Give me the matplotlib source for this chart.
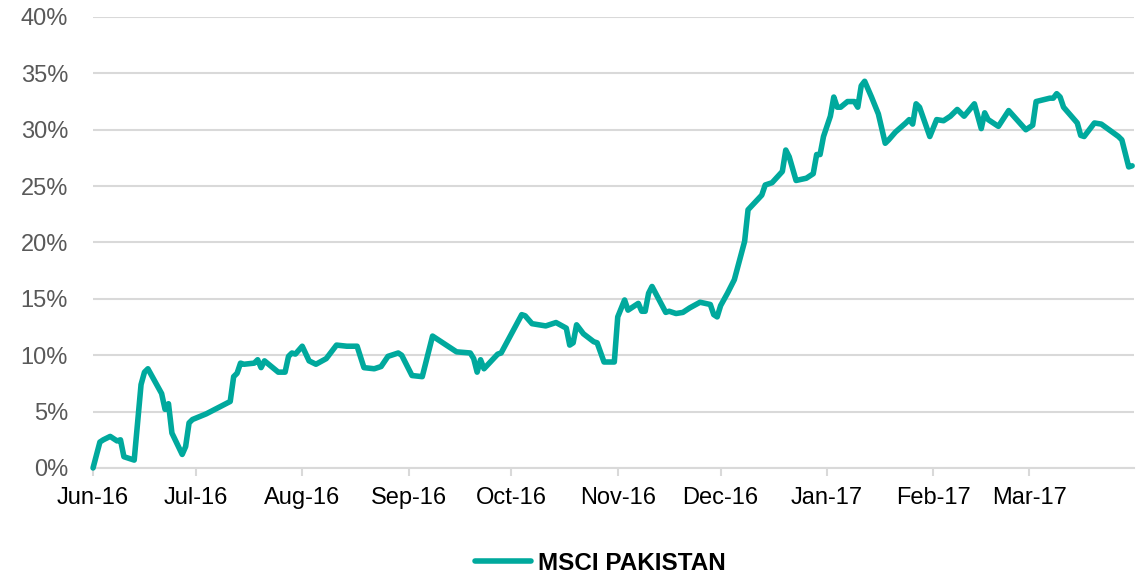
import numpy as np
import pandas as pd
import matplotlib
matplotlib.use("Agg")
import matplotlib.pyplot as plt
import matplotlib.dates as mdates
from matplotlib.ticker import FuncFormatter

# ================= DATA =================

DATES = [
    "2016-06-01", "2016-06-03", "2016-06-04", "2016-06-06", "2016-06-08", "2016-06-09",
    "2016-06-10", "2016-06-13", "2016-06-15", "2016-06-16", "2016-06-17", "2016-06-21",
    "2016-06-22", "2016-06-23", "2016-06-24", "2016-06-27", "2016-06-28", "2016-06-29",
    "2016-06-30", "2016-07-04", "2016-07-11", "2016-07-12", "2016-07-13", "2016-07-14",
    "2016-07-15", "2016-07-18", "2016-07-19", "2016-07-20", "2016-07-21", "2016-07-23",
    "2016-07-25", "2016-07-27", "2016-07-28", "2016-07-29", "2016-07-30", "2016-08-01",
    "2016-08-03", "2016-08-05", "2016-08-08", "2016-08-11", "2016-08-14", "2016-08-17",
    "2016-08-19", "2016-08-22", "2016-08-24", "2016-08-26", "2016-08-29", "2016-08-30",
    "2016-09-02", "2016-09-05", "2016-09-08", "2016-09-15", "2016-09-19", "2016-09-20",
    "2016-09-21", "2016-09-22", "2016-09-23", "2016-09-27", "2016-09-28", "2016-10-04",
    "2016-10-05", "2016-10-07", "2016-10-11", "2016-10-14", "2016-10-17", "2016-10-18",
    "2016-10-19", "2016-10-20", "2016-10-22", "2016-10-25", "2016-10-26", "2016-10-28",
    "2016-10-31", "2016-11-01", "2016-11-03", "2016-11-04", "2016-11-07", "2016-11-08",
    "2016-11-09", "2016-11-10", "2016-11-11", "2016-11-15", "2016-11-16", "2016-11-18",
    "2016-11-20", "2016-11-22", "2016-11-25", "2016-11-28", "2016-11-29", "2016-11-30",
    "2016-12-01", "2016-12-03", "2016-12-05", "2016-12-08", "2016-12-09", "2016-12-13",
    "2016-12-14", "2016-12-16", "2016-12-19", "2016-12-20", "2016-12-21", "2016-12-23",
    "2016-12-26", "2016-12-28", "2016-12-29", "2016-12-30", "2016-12-31", "2017-01-02",
    "2017-01-03", "2017-01-04", "2017-01-05", "2017-01-07", "2017-01-09", "2017-01-10",
    "2017-01-11", "2017-01-12", "2017-01-14", "2017-01-16", "2017-01-18", "2017-01-19",
    "2017-01-21", "2017-01-24", "2017-01-25", "2017-01-26", "2017-01-27", "2017-01-28",
    "2017-01-31", "2017-02-02", "2017-02-04", "2017-02-06", "2017-02-08", "2017-02-10",
    "2017-02-13", "2017-02-15", "2017-02-16", "2017-02-17", "2017-02-20", "2017-02-23",
    "2017-02-28", "2017-03-02", "2017-03-03", "2017-03-07", "2017-03-08", "2017-03-09",
    "2017-03-10", "2017-03-11", "2017-03-15", "2017-03-16", "2017-03-17", "2017-03-20",
    "2017-03-22", "2017-03-27", "2017-03-28", "2017-03-29", "2017-03-30", "2017-03-31",
]

MSCI_PAK = [
    0.0, 2.3, 2.5, 2.8, 2.4, 2.5,
    1.0, 0.7, 7.4, 8.5, 8.8, 6.6,
    5.2, 5.7, 3.1, 1.2, 1.9, 4.0,
    4.3, 4.8, 5.9, 8.1, 8.4, 9.3,
    9.2, 9.3, 9.6, 8.9, 9.5, 9.0,
    8.5, 8.5, 9.9, 10.2, 10.1, 10.8,
    9.5, 9.2, 9.7, 10.9, 10.8, 10.8,
    8.9, 8.8, 9.0, 9.9, 10.2, 10.0,
    8.2, 8.1, 11.7, 10.3, 10.2, 9.7,
    8.5, 9.6, 8.8, 10.1, 10.2, 13.6,
    13.5, 12.8, 12.6, 12.9, 12.4, 10.9,
    11.1, 12.7, 11.9, 11.2, 11.1, 9.4,
    9.4, 13.4, 14.9, 14.0, 14.6, 13.9,
    13.9, 15.5, 16.1, 13.8, 13.9, 13.7,
    13.8, 14.2, 14.7, 14.5, 13.6, 13.4,
    14.4, 15.5, 16.7, 20.1, 22.9, 24.2,
    25.1, 25.3, 26.3, 28.2, 27.6, 25.5,
    25.7, 26.1, 27.8, 27.8, 29.4, 31.2,
    32.9, 32.0, 32.0, 32.5, 32.5, 32.0,
    33.9, 34.3, 32.9, 31.4, 28.8, 29.1,
    29.8, 30.6, 30.9, 30.5, 32.3, 32.0,
    29.4, 30.9, 30.8, 31.2, 31.8, 31.2,
    32.3, 30.1, 31.5, 30.9, 30.3, 31.7,
    30.0, 30.4, 32.5, 32.8, 32.8, 33.2,
    32.9, 32.0, 30.6, 29.5, 29.4, 30.6,
    30.5, 29.4, 29.1, 27.9, 26.7, 26.8,
]

Y_TICKS = [0, 5, 10, 15, 20, 25, 30, 35, 40]
SERIES_NAME = "MSCI PAKISTAN"

# ================= STYLE =================

TEAL = "#00a99d"
GRID = "#d9d9d9"
plt.rcParams["font.family"] = ["Liberation Sans", "DejaVu Sans"]

dates = pd.to_datetime(DATES)

fig = plt.figure(figsize=(11.43, 5.74), dpi=100)
ax = fig.add_axes([0.0814, 0.1847, 0.9106, 0.7857])

ax.plot(dates, MSCI_PAK, color=TEAL, lw=4.0, solid_joinstyle="round",
        solid_capstyle="round", clip_on=False, label=SERIES_NAME, zorder=3)

ax.set_ylim(0, 40)
ax.set_yticks(Y_TICKS)
ax.yaxis.set_major_formatter(FuncFormatter(lambda v, _: f"{v:.0f}%"))
ax.set_xlim(pd.Timestamp("2016-06-01"), pd.Timestamp("2017-03-31 12:00"))
ax.xaxis.set_major_locator(mdates.MonthLocator())
ax.xaxis.set_major_formatter(mdates.DateFormatter("%b-%y"))

ax.grid(True, axis="y", color=GRID, lw=1.5)
ax.set_axisbelow(True)
for s in ["top", "right", "left"]:
    ax.spines[s].set_visible(False)
ax.spines["bottom"].set_color(GRID)
ax.spines["bottom"].set_linewidth(1.5)

ax.tick_params(axis="y", length=0, pad=18, labelsize=17, labelcolor="#595959")
ax.tick_params(axis="x", length=6, width=1.5, color=GRID, pad=8,
               labelsize=17, labelcolor="#000000")

fig.legend(loc="center", bbox_to_anchor=(0.525, 0.019), frameon=False,
           prop={"weight": "bold", "size": 17.5}, handlelength=2.3,
           handletextpad=0.3)

plt.savefig("out.png", dpi=100)
plt.close()
